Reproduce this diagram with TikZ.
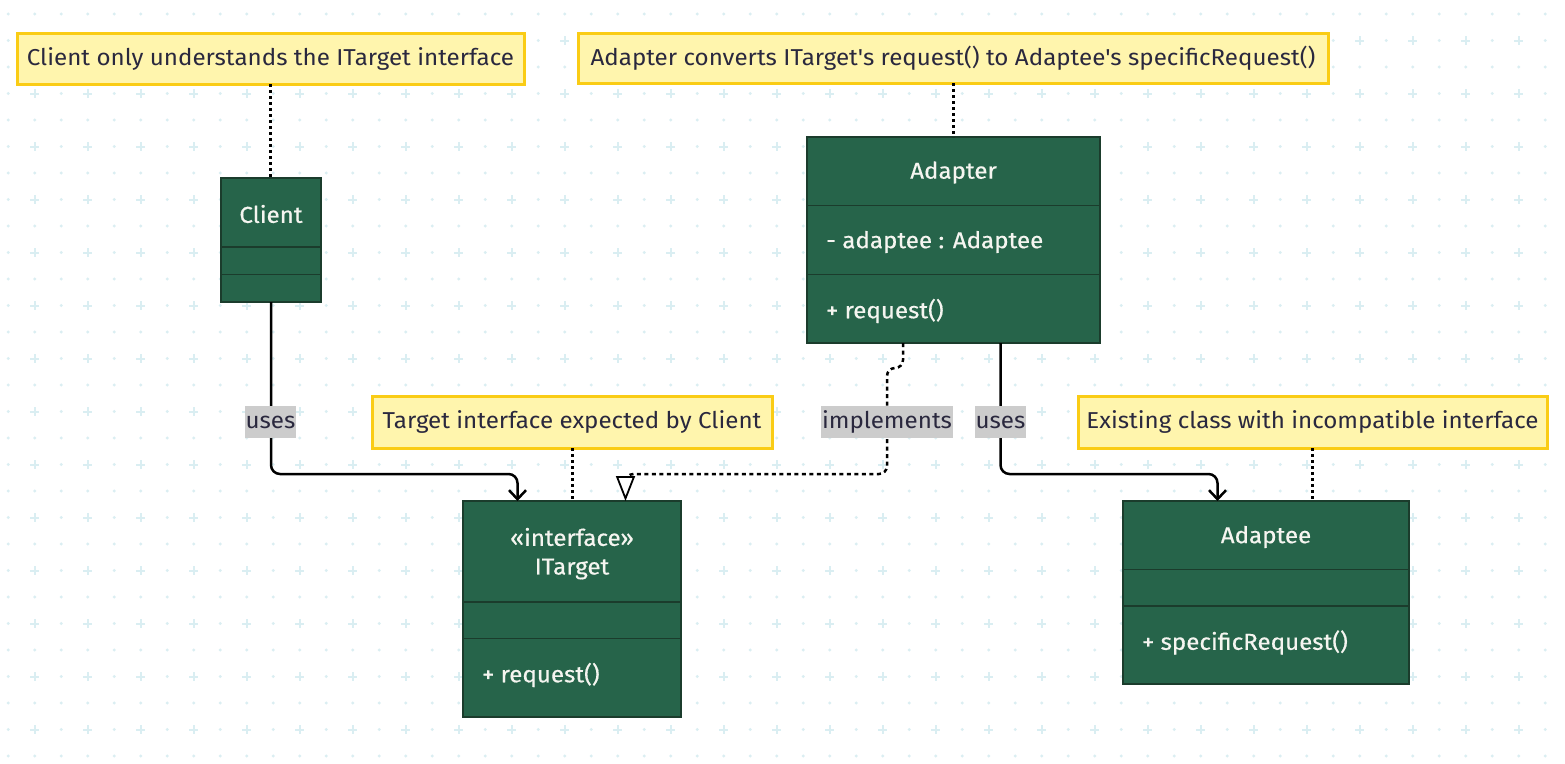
\documentclass[tikz,border=0pt]{standalone}
\usepackage{fontspec}
\setmainfont{Fira Sans}[FakeStretch=1.05]
\newfontfamily\boxfont{Fira Sans}[FakeStretch=1.05, FakeBold=0.5]
\usetikzlibrary{arrows.meta,calc}
\definecolor{boxgreen}{RGB}{38,100,74}
\definecolor{boxline}{RGB}{27,60,44}
\definecolor{notefill}{RGB}{255,245,173}
\definecolor{noteline}{RGB}{250,204,21}
\definecolor{inkc}{RGB}{42,40,62}
\definecolor{lblfill}{RGB}{204,204,204}
\definecolor{gridc}{RGB}{218,238,242}
\definecolor{boxtextc}{RGB}{245,245,240}
\tikzset{
  txt/.style={font=\fontsize{23}{27}\selectfont},
  btxt/.style={font=\boxfont\fontsize{23}{27}\selectfont},
  umlbox/.style={draw=boxline, line width=1.5pt, fill=boxgreen, inner sep=0pt, outer sep=0pt},
  divider/.style={draw=boxline, line width=1.5pt},
  boxtitle/.style={btxt, text=boxtextc, inner sep=0pt},
  member/.style={btxt, text=boxtextc, inner sep=0pt, anchor=west},
  notebox/.style={txt, text=inkc, fill=notefill, draw=noteline, line width=3pt, inner sep=0pt, outer sep=0pt},
  notelink/.style={draw=black, line width=3pt, dash pattern=on 3pt off 3pt},
  lbl/.style={txt, text=inkc, fill=lblfill, inner xsep=1pt, inner ysep=0pt, minimum height=32pt},
  usesline/.style={draw=black, line width=2.5pt, rounded corners=9pt, -{Straight Barb[length=9pt,width=17pt,line width=2.5pt]}},
  implline/.style={draw=black, line width=2.5pt, rounded corners=8pt, dash pattern=on 4pt off 3.5pt, -{Triangle[open, fill=white, length=25pt, width=19pt, line width=1.8pt]}},
}
\begin{document}
\begin{tikzpicture}[x=1pt,y=-1pt]
\useasboundingbox (0,0) rectangle (1565,763);
\fill[white] (0,0) rectangle (1565,763);
% background grid
\foreach \i in {0,...,58}{
  \foreach \j in {0,...,28}{
    \pgfmathsetmacro{\gx}{8.3+26.5*\i}
    \pgfmathsetmacro{\gy}{14+26.5*\j}
    \pgfmathtruncatemacro{\isplus}{mod(\i,2)*mod(\j,2)}
    \ifnum\isplus=1
      \draw[gridc, line width=2pt] (\gx-4.5,\gy) -- (\gx+4.5,\gy) (\gx,\gy-4.5) -- (\gx,\gy+4.5);
    \else
      \fill[gridc] (\gx,\gy) circle (1.6);
    \fi
  }
}
% notes
\node[notebox, minimum width=507pt, minimum height=51pt] (note1) at (270.5,58.5) {Client only understands the ITarget interface};
\node[notebox, minimum width=750pt, minimum height=50pt] (note2) at (953,58) {Adapter converts ITarget\textquotesingle s request() to Adaptee\textquotesingle s specificRequest()};
\node[notebox, minimum width=400pt, minimum height=52pt] (note3) at (572,422) {Target interface expected by Client};
\node[notebox, minimum width=469pt, minimum height=52pt] (note4) at (1312.5,422) {Existing class with incompatible interface};

% Client
\node[umlbox, minimum width=100pt, minimum height=124pt] (client) at (271,240) {};
\draw[divider] (221,247) -- (321,247);
\draw[divider] (221,274.5) -- (321,274.5);
\node[boxtitle] (clientname) at (271,214) {Client};

% Adapter
\node[umlbox, minimum width=293pt, minimum height=206pt] (adapter) at (953.5,240) {};
\draw[divider] (807,205.5) -- (1100,205.5);
\draw[divider] (807,274.5) -- (1100,274.5);
\node[boxtitle] (adaptername) at (953.5,172.5) {Adapter};
\node[member] (adapterattr) at (826,242) {- adaptee : Adaptee};
\node[member] (adapterop) at (826,311) {+ request()};

% ITarget
\node[umlbox, minimum width=218pt, minimum height=216pt] (itarget) at (572,609) {};
\draw[divider] (463,602) -- (681,602);
\draw[divider] (463,638.5) -- (681,638.5);
\node[boxtitle] (itargetstereo) at (572,537) {«interface»};
\node[boxtitle] (itargetname) at (572,569) {ITarget};
\node[member] (itargetop) at (482,675) {+ request()};

% Adaptee
\node[umlbox, minimum width=286pt, minimum height=183pt] (adaptee) at (1266,592.5) {};
\draw[divider] (1123,569.5) -- (1409,569.5);
\draw[divider] (1123,606) -- (1409,606);
\node[boxtitle] (adapteename) at (1266,537) {Adaptee};
\node[member] (adapteeop) at (1142,642.5) {+ specificRequest()};

% note links
\draw[notelink] (note1.south) -- (note1.south |- client.north);
\draw[notelink] (note2.south) -- (note2.south |- adapter.north);
\draw[notelink] (note3.south) -- (note3.south |- itarget.north);
\draw[notelink] (note4.south) -- (note4.south |- adaptee.north);

% connectors
\coordinate (itin) at ($(itarget.north)+(-54.5,0)$);
\coordinate (itimpl) at ($(itarget.north)+(53.5,0)$);
\coordinate (adimpl) at ($(adapter.south)+(-50.5,0)$);
\coordinate (aduse) at ($(adapter.south)+(47,0)$);
\coordinate (adein) at ($(adaptee.north)+(-48.5,0)$);

\draw[usesline] (client.south) -- (client.south |- 0,474) -| (itin);
\draw[implline] (adimpl) -- ($(adimpl)+(0,25)$) -- ($(adimpl)+(-16,25)$) -- ($(adimpl)+(-16,131)$) -| (itimpl);
\draw[usesline] (aduse) -- (aduse |- 0,474) -| (adein);

% labels
\node[lbl] (uses1) at (270.5,422) {uses};
\node[lbl] (impl) at (887,422) {implements};
\node[lbl] (uses2) at (1000.5,422) {uses};
\end{tikzpicture}
\end{document}
